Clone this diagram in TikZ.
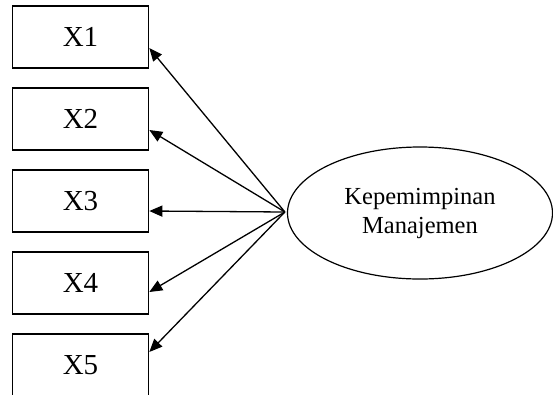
\documentclass[tikz,border=0pt]{standalone}
\usepackage{fontspec}
\setmainfont{Liberation Serif}
\usetikzlibrary{arrows.meta,shapes.geometric}
\begin{document}
\begin{tikzpicture}[x=1pt,y=-1pt,
  ind/.style={draw,line width=1.6pt,minimum width=136pt,minimum height=62pt,inner sep=0pt,font=\fontsize{29}{32}\selectfont},
  lat/.style={draw,ellipse,line width=1.2pt,minimum width=265pt,minimum height=132pt,inner sep=0pt,align=center,font=\fontsize{24.5}{29}\selectfont},
  arr/.style={line width=1.3pt,-{Triangle[length=13pt,width=11pt]}}]
\clip (0,0) rectangle (553,394);
\node[ind] (x1) at (80.5,37) {X1};
\node[ind] (x2) at (80.5,119) {X2};
\node[ind] (x3) at (80.5,201) {X3};
\node[ind] (x4) at (80.5,283) {X4};
\node[ind] (x5) at (80.5,365) {X5};
\node[lat] (k) at (420,213) {Kepemimpinan\\Manajemen};
\coordinate (src) at ([xshift=-2pt,yshift=1pt]k.west);
\draw[arr] (src) -- ([yshift=-11pt]x1.east);
\draw[arr] (src) -- ([yshift=-11pt]x2.east);
\draw[arr] (src) -- ([yshift=-10pt]x3.east);
\draw[arr] (src) -- ([yshift=-9pt]x4.east);
\draw[arr] (src) -- ([yshift=13pt]x5.east);
\end{tikzpicture}
\end{document}
